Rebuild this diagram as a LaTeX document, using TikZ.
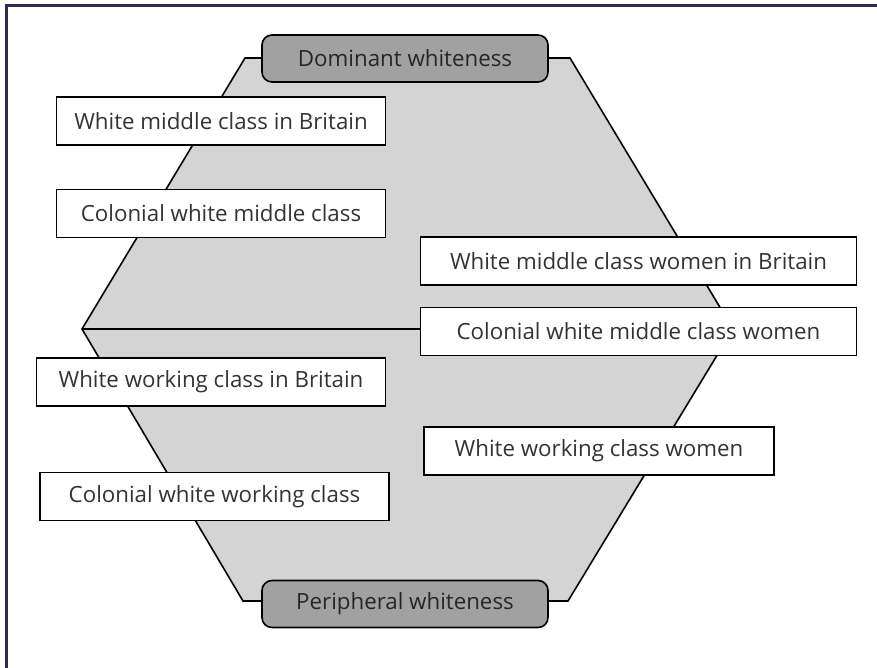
\documentclass[tikz,border=0pt]{standalone}
\usepackage{fontspec}
\setmainfont{Open Sans}
\begin{document}
\begin{tikzpicture}[x=1pt,y=-1pt,
  lbl/.style={draw=black,line width=1.6pt,fill=white,minimum height=48pt,inner sep=0pt,font=\fontsize{22.3}{25}\selectfont,text=black!80},
  pole/.style={draw=black,line width=1.6pt,fill=black!37,rounded corners=10pt,minimum width=286pt,minimum height=47pt,inner sep=0pt,font=\fontsize{22.3}{25}\selectfont,text=black!85},
  edge/.style={line width=1.6pt,line join=miter}]
\useasboundingbox (0,0) rectangle (877,668);
\draw[line width=3pt,color={rgb,255:red,46;green,42;blue,85}] (6,668) -- (6,6) -- (877,6);
% hexagon
\coordinate (tl) at (245,58);
\coordinate (tr) at (570,58);
\coordinate (rv) at (733,329);
\coordinate (br) at (568,601);
\coordinate (bl) at (243,601);
\coordinate (lv) at (82,329);
\fill[black!17] (tl) -- (tr) -- (rv) -- (br) -- (bl) -- (lv) -- cycle;
\draw[edge] (tl) -- (tr) -- (rv) -- (br) -- (bl) -- (lv) -- cycle;
% poles
\node[pole] (dom) at (405,58.5) {Dominant whiteness};
\node[pole] (per) at (405,604) {Peripheral whiteness};
% labels
\node[lbl,minimum width=329pt] (wmb) at (221,121) {White middle class in Britain};
\node[lbl,minimum width=329pt] (cwm) at (221,213.5) {Colonial white middle class};
\node[lbl,minimum width=436pt] (wmwb) at (638.5,261) {White middle class women in Britain};
\node[lbl,minimum width=436pt] (cwmw) at (638.5,331.5) {Colonial white middle class women};
\node[lbl,minimum width=349pt] (wwb) at (211,382) {White working class in Britain};
\node[lbl,minimum width=350pt] (wwcw) at (599,451) {White working class women};
\node[lbl,minimum width=349pt] (cww) at (214.5,496.5) {Colonial white working class};
% divider
\draw[edge] (lv) -- (cwmw.west |- lv);
\end{tikzpicture}
\end{document}
